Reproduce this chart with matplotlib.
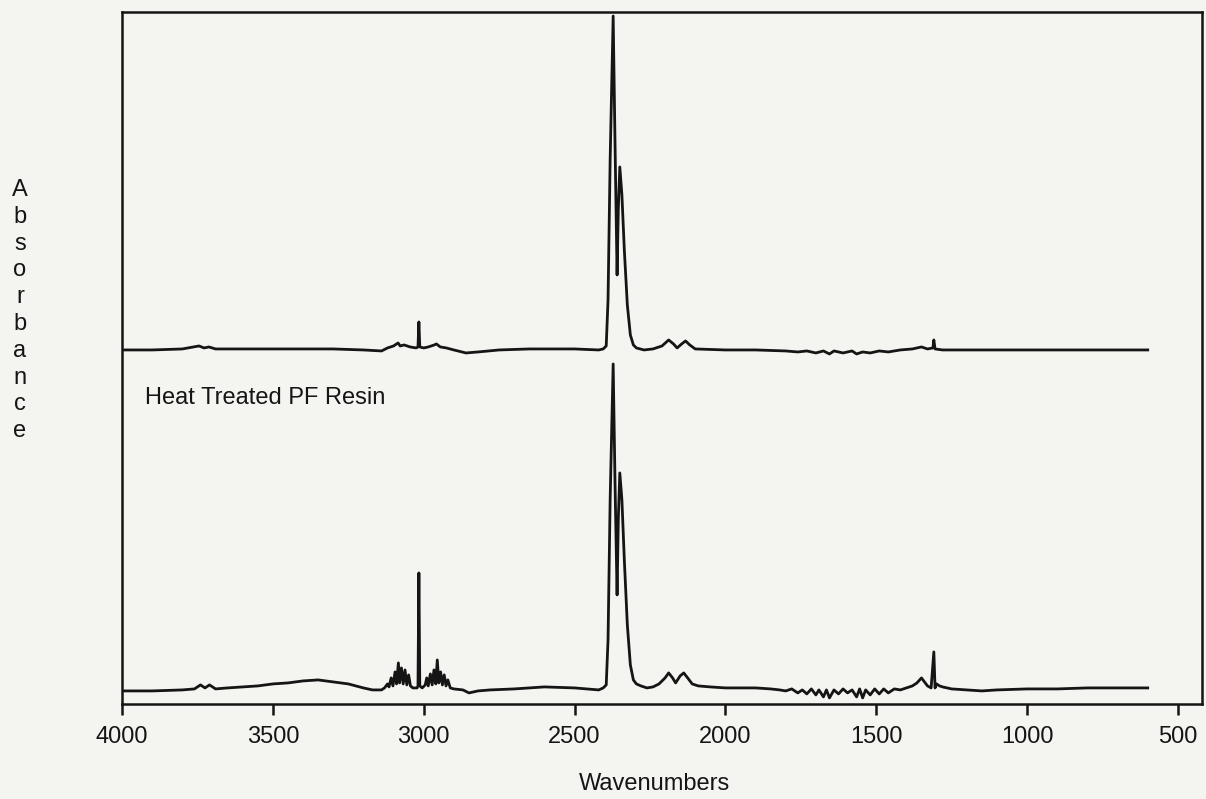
import matplotlib
matplotlib.use("Agg")
from matplotlib import pyplot as plt

plt.rcParams['font.family'] = ['Liberation Sans', 'DejaVu Sans']

# upper trace (absorbance above its own baseline)
top_wn = [4000, 3900, 3800, 3745, 3728, 3712, 3690, 3600, 3500, 3400, 3300, 3200,
          3140, 3120, 3100, 3085, 3078, 3065, 3045, 3025, 3019, 3016, 3013, 3000,
          2985, 2965, 2958, 2945, 2925, 2900, 2860, 2820, 2750, 2650, 2500, 2420,
          2405, 2395, 2389, 2382, 2372, 2366, 2359, 2355, 2350, 2343, 2335, 2325,
          2315, 2305, 2295, 2270, 2240, 2210, 2188, 2172, 2160, 2145, 2132, 2118,
          2100, 2000, 1900, 1800, 1760, 1730, 1700, 1675, 1655, 1640, 1610, 1580,
          1565, 1545, 1520, 1490, 1460, 1420, 1380, 1350, 1330, 1312, 1309, 1305,
          1280, 1200, 1000, 800, 600]
top_abs = [0.00, 0.00, 0.01, 0.04, 0.02, 0.03, 0.01, 0.01, 0.01, 0.01, 0.01, 0.00,
           -0.01, 0.02, 0.04, 0.07, 0.04, 0.05, 0.03, 0.02, 0.03, 0.28, 0.03, 0.02,
           0.03, 0.05, 0.06, 0.03, 0.02, 0.00, -0.03, -0.02, 0.00, 0.01, 0.01, 0.00,
           0.01, 0.04, 0.50, 1.90, 3.34, 2.10, 0.75, 1.40, 1.83, 1.55, 1.00, 0.45,
           0.15, 0.05, 0.02, 0.00, 0.01, 0.04, 0.10, 0.06, 0.02, 0.06, 0.09, 0.05,
           0.01, 0.00, 0.00, -0.01, -0.02, -0.01, -0.03, -0.01, -0.04, -0.01, -0.03, -0.01,
           -0.04, -0.02, -0.03, -0.01, -0.02, 0.00, 0.01, 0.03, 0.01, 0.02, 0.10, 0.01,
           0.00, 0.00, 0.00, 0.00, 0.00]

# lower trace: Heat Treated PF Resin
bot_wn = [4000, 3900, 3800, 3760, 3740, 3725, 3710, 3690, 3650, 3600, 3550, 3500,
          3450, 3400, 3350, 3300, 3250, 3200, 3170, 3140, 3130, 3120, 3115, 3108,
          3102, 3095, 3090, 3084, 3080, 3074, 3068, 3062, 3056, 3050, 3044, 3036,
          3022, 3019, 3016, 3013, 3005, 2995, 2990, 2985, 2978, 2972, 2966, 2960,
          2955, 2950, 2944, 2938, 2932, 2926, 2920, 2912, 2900, 2870, 2850, 2820,
          2780, 2700, 2600, 2500, 2420, 2405, 2395, 2389, 2382, 2372, 2366, 2359,
          2355, 2350, 2343, 2335, 2325, 2315, 2305, 2295, 2280, 2260, 2240, 2220,
          2200, 2188, 2175, 2165, 2150, 2138, 2125, 2110, 2090, 2050, 2000, 1900,
          1850, 1820, 1800, 1780, 1760, 1745, 1730, 1715, 1700, 1690, 1675, 1665,
          1655, 1640, 1625, 1610, 1595, 1580, 1565, 1555, 1545, 1535, 1520, 1505,
          1490, 1475, 1460, 1440, 1420, 1400, 1380, 1365, 1350, 1340, 1330, 1318,
          1309, 1305, 1300, 1290, 1280, 1250, 1200, 1150, 1100, 1000, 900, 800,
          700, 600]
bot_abs = [-0.01, -0.01, 0.00, 0.01, 0.05, 0.02, 0.05, 0.01, 0.02, 0.03, 0.04, 0.06,
           0.07, 0.09, 0.10, 0.08, 0.06, 0.02, 0.00, 0.00, 0.02, 0.06, 0.03, 0.12,
           0.04, 0.18, 0.06, 0.27, 0.07, 0.22, 0.06, 0.20, 0.05, 0.15, 0.04, 0.02,
           0.02, 0.04, 1.17, 0.04, 0.02, 0.05, 0.12, 0.04, 0.16, 0.05, 0.20, 0.06,
           0.30, 0.07, 0.18, 0.05, 0.15, 0.04, 0.10, 0.02, 0.01, 0.00, -0.03, -0.01,
           0.00, 0.01, 0.03, 0.02, 0.00, 0.02, 0.05, 0.50, 1.90, 3.26, 2.10, 0.95,
           1.70, 2.17, 1.90, 1.30, 0.65, 0.25, 0.10, 0.06, 0.04, 0.02, 0.03, 0.06,
           0.12, 0.17, 0.12, 0.07, 0.14, 0.17, 0.12, 0.06, 0.04, 0.03, 0.02, 0.02,
           0.01, 0.00, -0.01, 0.01, -0.03, 0.00, -0.04, 0.01, -0.05, 0.00, -0.07, 0.00,
           -0.08, 0.00, -0.04, 0.01, -0.03, 0.00, -0.07, 0.01, -0.08, 0.00, -0.05, 0.01,
           -0.04, 0.01, -0.03, 0.01, 0.00, 0.02, 0.04, 0.07, 0.12, 0.08, 0.04, 0.02,
           0.38, 0.02, 0.06, 0.04, 0.03, 0.01, 0.00, -0.01, 0.00, 0.01, 0.01, 0.02,
           0.02, 0.02]

x_ticks = [4000, 3500, 3000, 2500, 2000, 1500, 1000, 500]
sample_label = 'Heat Treated PF Resin'
y_letters = list('Absorbance')

top_offset = 3.40
ink = '#151515'
paper = '#f4f4f1'

fig = plt.figure(figsize=(12.06, 7.99), dpi=100, facecolor=paper)
ax = fig.add_axes([0.1012, 0.119, 0.8955, 0.866])
ax.set_facecolor(paper)

ax.plot(top_wn, [v + top_offset for v in top_abs], color=ink, lw=2.0)
ax.plot(bot_wn, bot_abs, color=ink, lw=2.0)

ax.set_xlim(4000, 420)
ax.set_ylim(-0.14, 6.78)
ax.set_xticks(x_ticks)
ax.set_xticklabels([str(t) for t in x_ticks])
ax.set_yticks([])
ax.tick_params(axis='x', direction='out', length=8, width=1.8,
               labelsize=17, pad=8, colors=ink)
for s in ax.spines.values():
    s.set_linewidth(1.8)
    s.set_color(ink)

ax.text(3925, 2.92, sample_label, fontsize=17, color=ink, va='center', ha='left')

# stacked vertical y label
for i, ch in enumerate(y_letters):
    fig.text(20 / 1206, 1 - (190 + i * 26.8) / 799, ch, fontsize=17,
             color=ink, ha='center', va='center')

fig.text(655 / 1206, 1 - 784 / 799, 'Wavenumbers', fontsize=17, color=ink,
         ha='center', va='center')

fig.savefig('out.png', dpi=100, facecolor=paper)
